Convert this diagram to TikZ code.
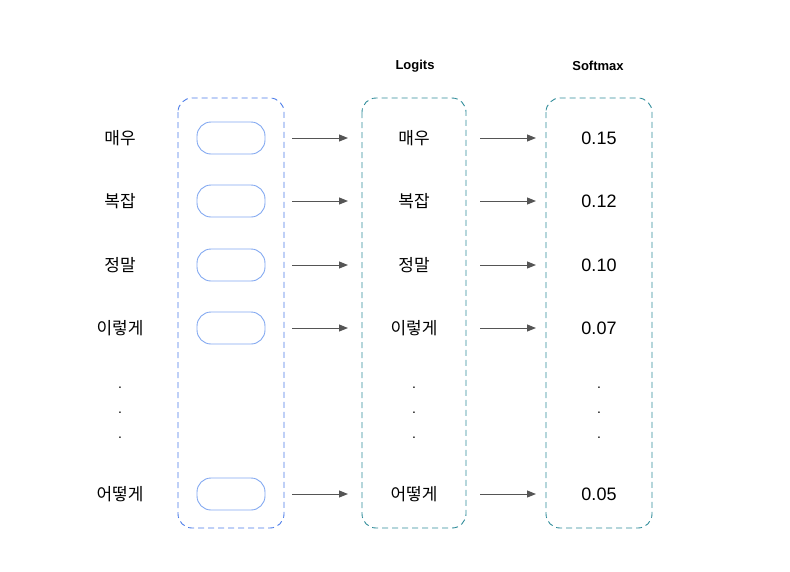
\documentclass[tikz,border=0pt]{standalone}
\usepackage{fontspec}
\setmainfont{Liberation Sans}
\newfontfamily\kr{Noto Sans CJK KR}
\usetikzlibrary{arrows.meta}
\definecolor{bl}{HTML}{4A7BE8}
\definecolor{pl}{HTML}{82A8F0}
\definecolor{tl}{HTML}{2E8B99}
\definecolor{ar}{HTML}{555555}
\tikzset{
 col/.style={draw=#1, dashed, dash pattern=on 6pt off 4pt, rounded corners=14pt, line width=0.9pt},
 pill/.style={draw=pl, line width=0.9pt, rounded corners=14pt, minimum width=68pt, minimum height=32pt},
 lab/.style={font=\kr\fontsize{17}{20}\selectfont},
 num/.style={font=\fontsize{18}{20}\selectfont},
 hd/.style={font=\bfseries\fontsize{13}{15}\selectfont},
 arr/.style={draw=ar, line width=1pt, -{Triangle[length=9pt,width=7pt]}},
 dt/.style={font=\fontsize{14}{14}\selectfont}
}
\begin{document}
\begin{tikzpicture}[x=1pt,y=-1pt]
\useasboundingbox (0,0) rectangle (790,571);
\draw[col=bl] (178,98) rectangle (284,528);
\draw[col=tl] (362,98) rectangle (466,528);
\draw[col=tl] (546,98) rectangle (652,528);
\node[hd] (hl) at (415,66) {Logits};
\node[hd] (hs) at (598,66) {Softmax};
\foreach \y/\w/\n/\i in {138/매우/0.15/1, 201/복잡/0.12/2, 265/정말/0.10/3, 328/이렇게/0.07/4, 494/어떻게/0.05/5}{
 \node[lab] (a\i) at (120,\y) {\w};
 \node[pill] (p\i) at (231,\y) {};
 \node[lab] (b\i) at (414,\y) {\w};
 \node[num] (c\i) at (599,\y) {\n};
 \coordinate (s\i) at (292,\y); \coordinate (e\i) at (348,\y);
 \coordinate (t\i) at (480,\y); \coordinate (f\i) at (536,\y);
 \draw[arr] (s\i) -- (e\i);
 \draw[arr] (t\i) -- (f\i);
}
\foreach \x/\k in {120/l,414/m,599/r}{
 \node[dt] (d\k1) at (\x,388) {.};
 \node[dt] (d\k2) at (\x,413) {.};
 \node[dt] (d\k3) at (\x,438) {.};
}
\end{tikzpicture}
\end{document}
